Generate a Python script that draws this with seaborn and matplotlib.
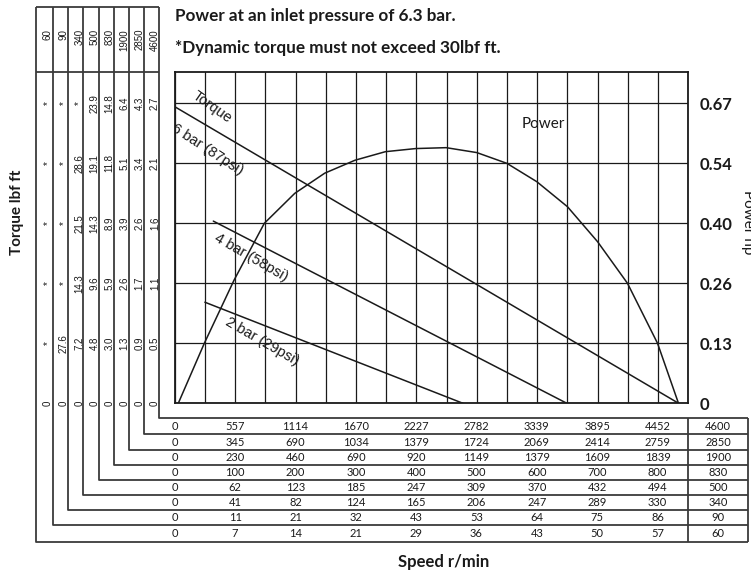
import numpy as np
import pandas as pd
import matplotlib
matplotlib.use("Agg")
import matplotlib.pyplot as plt
import seaborn as sns
from matplotlib.transforms import blended_transform_factory

# ---------------------------------------------------------------- data
# free speed (r/min) of each motor in the range, outermost table band first
models = ["60", "90", "340", "500", "830", "1900", "2850", "4600"]

# torque (lbf ft) of each motor at the chart's grid levels, from 0 upward
torque_60 = ["0", "*", "*", "*", "*", "*"]
torque_90 = ["0", "27.6", "*", "*", "*", "*"]
torque_340 = ["0", "7.2", "14.3", "21.5", "28.6", "*"]
torque_500 = ["0", "4.8", "9.6", "14.3", "19.1", "23.9"]
torque_830 = ["0", "3.0", "5.9", "8.9", "11.8", "14.8"]
torque_1900 = ["0", "1.3", "2.6", "3.9", "5.1", "6.4"]
torque_2850 = ["0", "0.9", "1.7", "2.6", "3.4", "4.3"]
torque_4600 = ["0", "0.5", "1.1", "1.6", "2.1", "2.7"]

# speed (r/min) of each motor at every second grid column
speed_60 = [0, 7, 14, 21, 29, 36, 43, 50, 57]
speed_90 = [0, 11, 21, 32, 43, 53, 64, 75, 86]
speed_340 = [0, 41, 82, 124, 165, 206, 247, 289, 330]
speed_500 = [0, 62, 123, 185, 247, 309, 370, 432, 494]
speed_830 = [0, 100, 200, 300, 400, 500, 600, 700, 800]
speed_1900 = [0, 230, 460, 690, 920, 1149, 1379, 1609, 1839]
speed_2850 = [0, 345, 690, 1034, 1379, 1724, 2069, 2414, 2759]
speed_4600 = [0, 557, 1114, 1670, 2227, 2782, 3339, 3895, 4452]

power_labels = ["0", "0.13", "0.26", "0.40", "0.54", "0.67"]

# power at 6.3 bar (hp), speed on the 4600 r/min scale
power_speed = [33, 273, 547, 826, 1107, 1383, 1663, 1942, 2222, 2502,
               2785, 3062, 3338, 3621, 3898, 4174, 4451, 4644]
power_hp = [0.0, 0.134, 0.275, 0.402, 0.469, 0.514, 0.543, 0.562, 0.569,
            0.571, 0.560, 0.536, 0.495, 0.439, 0.361, 0.268, 0.134, 0.0]

# torque lines (lbf ft on the 4600 r/min motor) at three inlet pressures
torque6_speed = [0, 4645]
torque6 = [2.67, 0.0]
torque4_speed = [356, 3615]
torque4 = [1.64, 0.0]
torque2_speed = [278, 2657]
torque2 = [0.91, 0.0]

# ---------------------------------------------------------------- style
sns.set_theme(style="white")
plt.rcParams["font.family"] = ["Lato", "DejaVu Sans"]
INK = "#1a1a1a"
RULE = "#3a3a3a"

W, H = 751, 573
L, R, T, B = 174.7, 688.3, 72.0, 403.3

fig = plt.figure(figsize=(W / 100, H / 100), dpi=100)

# full-figure layer in pixel units for the table rules
bg = fig.add_axes([0, 0, 1, 1], zorder=0)
bg.set_xlim(0, W)
bg.set_ylim(H, 0)
bg.axis("off")

ax = fig.add_axes([L / W, 1 - B / H, (R - L) / W, (B - T) / H], zorder=2)
step = speed_4600[1] / 2
ymax = 0.74
ax.set_xlim(0, 17 * step)
ax.set_ylim(0, ymax)
levels = np.linspace(0, 0.67, 6)

# power curve
df_p = pd.DataFrame({"speed": power_speed, "power": power_hp})
sns.lineplot(data=df_p, x="speed", y="power", ax=ax, color=INK, lw=1.1,
             estimator=None, sort=False)

# torque lines on a twin scale
axt = ax.twinx()
axt.set_ylim(0, 2.7 * ymax / 0.67)
axt.axis("off")
for sp, tq in [(torque6_speed, torque6), (torque4_speed, torque4),
               (torque2_speed, torque2)]:
    d = pd.DataFrame({"speed": sp, "torque": tq})
    sns.lineplot(data=d, x="speed", y="torque", ax=axt, color=INK, lw=1.1,
                 estimator=None, sort=False)

# grid and frame
ax.set_xticks(np.arange(18) * step)
ax.set_yticks(levels)
ax.grid(True, color=INK, lw=0.9)
ax.set_axisbelow(True)
ax.set_xticklabels([])
ax.set_xlabel("")
ax.set_ylabel("")
ax.yaxis.tick_right()
ax.set_yticklabels(power_labels)
ax.tick_params(axis="x", length=0)
ax.tick_params(axis="y", length=0, pad=8, labelsize=12, labelcolor=INK)
for lab in ax.get_yticklabels():
    lab.set_fontweight("bold")
for s in ax.spines.values():
    s.set_color(INK)
    s.set_linewidth(1.3)

# curve annotations
lab_kw = dict(ha="center", va="center", rotation_mode="anchor",
              fontsize=10.5, color=INK, family=["Liberation Sans", "DejaVu Sans"],
              clip_on=True)
ax.text(344, 0.662, "Torque", rotation=-35, **lab_kw)
ax.text(305, 0.566, "6 bar (87psi)", rotation=-33, **lab_kw)
ax.text(704, 0.326, "4 bar (58psi)", rotation=-30, **lab_kw)
ax.text(810, 0.139, "2 bar (29psi)", rotation=-30, **lab_kw)
ax.text(3396, 0.624, "Power", ha="center", va="center", fontsize=11,
        color=INK)

# ---------------------------------------------------------------- tables
vx = [36.0, 52.7, 68.3, 83.3, 98.7, 113.7, 128.7, 143.7, 159.3]
hy = [542.0, 525.3, 510.3, 495.3, 480.0, 465.0, 450.0, 434.3, 418.3]
x_end, x_div = 748.3, 688.3
rule_kw = dict(color=RULE, lw=1.3, solid_capstyle="butt")
for xv, yh in zip(vx, hy):
    bg.plot([xv, xv, x_end], [7, yh, yh], **rule_kw)
bg.plot([vx[0], vx[-1]], [7, 7], **rule_kw)
bg.plot([vx[0], vx[-1]], [71.7, 71.7], **rule_kw)
bg.plot([x_end, x_end], [hy[-1], hy[0]], **rule_kw)
bg.plot([x_div, x_div], [hy[-1], hy[0]], **rule_kw)

torques = [torque_60, torque_90, torque_340, torque_500, torque_830,
           torque_1900, torque_2850, torque_4600]
speeds = [speed_60, speed_90, speed_340, speed_500, speed_830,
          speed_1900, speed_2850, speed_4600]

tr_tq = blended_transform_factory(bg.transData, ax.transData)
tr_sp = blended_transform_factory(ax.transData, bg.transData)
small = dict(family=["Liberation Sans", "DejaVu Sans"], fontsize=7, color=INK)
for i, (m, tq, sp) in enumerate(zip(models, torques, speeds)):
    cx = (vx[i] + vx[i + 1]) / 2
    bg.text(cx + 3.4, 29.0, m, rotation=90, ha="right", va="center",
            rotation_mode="anchor", **small)
    for lv, val in zip(levels, tq):
        bg.text(cx + 3.4, lv, val, rotation=90, ha="center", va="center",
                rotation_mode="anchor", transform=tr_tq, **small)
    ry = (hy[i] + hy[i + 1]) / 2
    for xs, val in zip(speed_4600, sp):
        bg.text(xs, ry, str(val), ha="center", va="center", transform=tr_sp,
                fontsize=8, color=INK)
    bg.text((x_div + x_end) / 2, ry, m, ha="center", va="center",
            fontsize=8, color=INK)

# ---------------------------------------------------------------- titles
bg.text(175, 20.5, "Power at an inlet pressure of 6.3 bar.", ha="left",
        va="baseline", fontsize=12.3, fontweight="bold", color=INK)
bg.text(175, 52.5, "*Dynamic torque must not exceed 30lbf ft.", ha="left",
        va="baseline", fontsize=12.3, fontweight="bold", color=INK)
bg.text(444, 567, "Speed r/min", ha="center", va="baseline", fontsize=12,
        fontweight="bold", color=INK)
bg.text(17, 212, "Torque lbf ft", ha="center", va="center", rotation=90,
        fontsize=11, fontweight="bold", color=INK)
bg.text(748, 222, "Power hp", ha="center", va="center", rotation=-90,
        fontsize=11, color=INK)

fig.savefig("out.png", dpi=100)
